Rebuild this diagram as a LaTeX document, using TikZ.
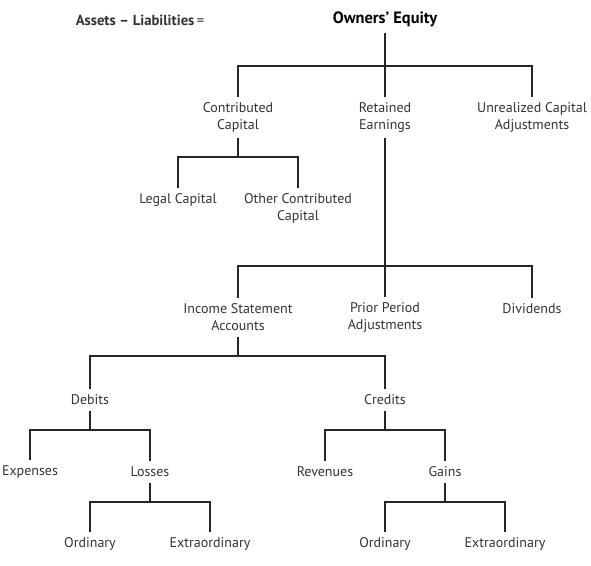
\documentclass[tikz,border=0pt]{standalone}
\usepackage{fontspec}
\setmainfont{PT Sans}
\usepackage{tikz}

\begin{document}
\begin{tikzpicture}[x=0.75pt, y=-0.75pt, every node/.style={font=\fontsize{10.5}{12.8}\selectfont, text=black!80}, lbl/.style={align=center, inner xsep=0pt, inner ysep=4pt}, br/.style={draw=black!85, line width=1.4pt}]
	\useasboundingbox (0,0) rectangle (591,566);
	\node[lbl, font=\fontsize{11}{13}\selectfont\bfseries] (AL) at (140,20.5) {Assets -- Liabilities\,\mdseries=};
	\node[lbl, font=\fontsize{12.3}{14}\selectfont\bfseries, text=black] (OE) at (385,19.5) {Owners' Equity};
	\node[lbl] (CC) at (238,117.5) {Contributed\\Capital};
	\node[lbl] (RE) at (385,117.5) {Retained\\Earnings};
	\node[lbl] (UA) at (532,117.5) {Unrealized Capital\\Adjustments};
	\node[lbl] (LC) at (178,200) {Legal Capital};
	\node[lbl] (OC) at (298,208.5) {Other Contributed\\Capital};
	\node[lbl] (IS) at (238,317.5) {Income Statement\\Accounts};
	\node[lbl] (PP) at (385,317.5) {Prior Period\\Adjustments};
	\node[lbl] (DV) at (532,309) {Dividends};
	\node[lbl] (DB) at (90,400) {Debits};
	\node[lbl] (CR) at (385,400) {Credits};
	\node[lbl] (EX) at (30,472) {Expenses};
	\node[lbl] (LO) at (150,472) {Losses};
	\node[lbl] (RV) at (325,472) {Revenues};
	\node[lbl] (GA) at (445,472) {Gains};
	\node[lbl] (O1) at (90,544) {Ordinary};
	\node[lbl] (E1) at (210,544) {Extraordinary};
	\node[lbl] (O2) at (385,544) {Ordinary};
	\node[lbl] (E2) at (505,544) {Extraordinary};
	\coordinate (b0) at (385,66);
	\coordinate (b1) at (238,157);
	\coordinate (b2) at (385,266);
	\coordinate (b3) at (238,356);
	\coordinate (b4) at (90,430);
	\coordinate (b5) at (385,430);
	\coordinate (b6) at (150,502);
	\coordinate (b7) at (445,502);
	\foreach \p/\b in {OE/b0, CC/b1, RE/b2, IS/b3, DB/b4, CR/b5, LO/b6, GA/b7} {\draw[br] (\p) -- (\b);}
	\foreach \b/\c in {b0/CC, b0/RE, b0/UA, b1/LC, b1/OC, b2/IS, b2/PP, b2/DV, b3/DB, b3/CR, b4/EX, b4/LO, b5/RV, b5/GA, b6/O1, b6/E1, b7/O2, b7/E2} {\draw[br] (\b) -| (\c);}
\end{tikzpicture}
\end{document}
